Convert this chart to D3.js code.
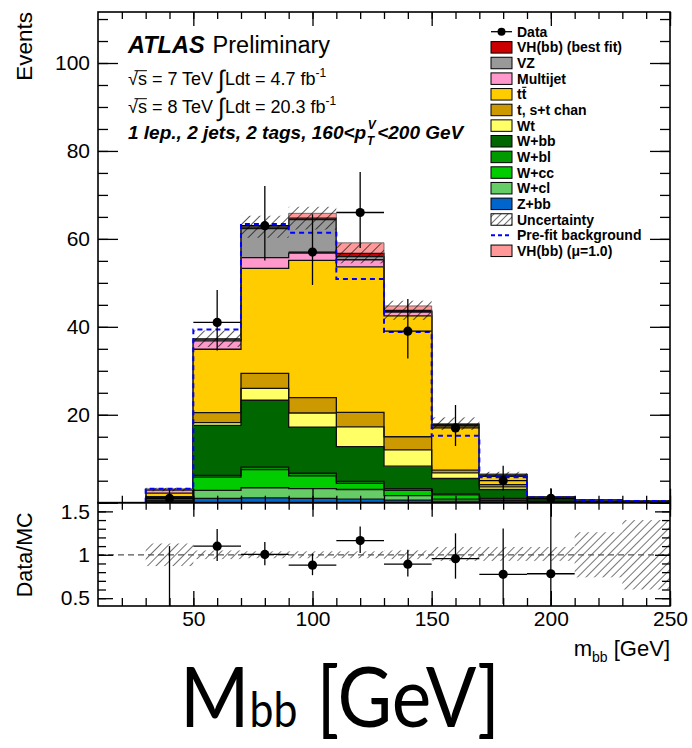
<!DOCTYPE html>
<html>
<head>
<meta charset="utf-8">
<script src="https://cdn.jsdelivr.net/npm/d3@7/dist/d3.min.js"></script>
<style>
html,body{margin:0;padding:0;background:#fff;}
svg{display:block;}
</style>
</head>
<body>
<svg id="chart" width="692" height="748"></svg>
<script>
// m_bb histogram binning (GeV)
const binEdges   = [30, 50, 70, 90, 110, 130, 150, 170, 190, 210, 230, 250];
const binCenters = [40, 60, 80, 100, 120, 140, 160, 180, 200, 220, 240];

// post-fit yields per bin, listed from the bottom of the stack upwards
const zbb      = [0.05, 1.0, 1.1, 1.0, 0.8, 0.6, 0.35, 0.2, 0.05, 0.03, 0.02];
const wcl      = [0.15, 1.8, 2.3, 2.2, 2.2, 1.0, 0.45, 0.3, 0.1, 0.05, 0.03];
const wcc      = [0.2, 3.0, 4.1, 2.9, 1.4, 1.2, 1.0, 0.4, 0.15, 0.05, 0.04];
const wbl      = [0.05, 0.4, 0.6, 0.6, 0.45, 0.4, 0.2, 0.1, 0.05, 0.02, 0.02];
const wbb      = [0.75, 11.4, 15.2, 10.5, 7.9, 5.1, 3.5, 2.0, 0.5, 0.25, 0.2];
const wt       = [0.1, 0.6, 2.7, 3.2, 4.5, 3.7, 1.3, 0.6, 0.1, 0.05, 0.03];
const stop     = [0.1, 2.3, 3.4, 3.5, 3.3, 3.0, 0.6, 0.5, 0.1, 0.02, 0.02];
const ttbar    = [0.8, 14.4, 23.9, 31.2, 33.1, 27.5, 10.0, 1.9, 0.2, 0.13, 0.08];
const multijet = [0.7, 1.9, 2.45, 1.66, 1.6, 0.85, 0.2, 0.3, 0.03, 0, 0];
const vz       = [0.1, 0.4, 6.6, 7.6, 0.7, 0.15, 0.05, 0.05, 0, 0, 0];
const vhFit    = [0, 0.1, 0.4, 0.35, 0.75, 0.25, 0.15, 0.1, 0, 0, 0];
// VH(bb) at mu = 1, shown above the post-fit stack
const vhMu1    = [0, 0, 0, 1.1, 2.4, 1.0, 0.2, 0.05, 0, 0, 0];

// pre-fit total background
const preFit   = [3.2, 39.4, 63.4, 61.4, 50.9, 38.8, 15.2, 5.8, 1.2, 0.6, 0.4];

// relative background uncertainty (up / down)
const uncUp    = [0.13, 0.05, 0.04, 0.04, 0.04, 0.05, 0.09, 0.09, 0.09, 0.26, 0.40];
const uncDown  = [0.13, 0.05, 0.04, 0.04, 0.04, 0.05, 0.07, 0.07, 0.07, 0.26, 0.40];

// observed data with Poisson error bars
const dataCounts  = [1, 41, 63, 57, 66, 39, 17, 5, 1, 0, 0];
const dataErrUp   = [2.3, 7.4, 9.0, 8.6, 9.2, 7.3, 5.2, 3.4, 2.3, 0, 0];
const dataErrDown = [0.83, 6.4, 7.9, 7.5, 8.1, 6.2, 4.1, 2.2, 0.83, 0, 0];

// axis ticks
const mainYMajor  = [0, 20, 40, 60, 80, 100];
const mainYMinor  = [0, 5, 10, 15, 20, 25, 30, 35, 40, 45, 50, 55, 60, 65, 70, 75, 80, 85, 90, 95, 100, 105, 110];
const xMajor      = [50, 100, 150, 200, 250];
const xMinor      = [20, 30, 40, 50, 60, 70, 80, 90, 100, 110, 120, 130, 140, 150, 160, 170, 180, 190, 200, 210, 220, 230, 240, 250];
const ratioMajor  = [0.5, 1, 1.5];
const ratioMinor  = [0.5, 0.6, 0.7, 0.8, 0.9, 1.0, 1.1, 1.2, 1.3, 1.4, 1.5, 1.6];

const FONT = "'Liberation Sans', Arial, Helvetica, sans-serif";

const layers = [
  {key: "zbb",      label: "Z+bb",              values: zbb,      color: "#0066cc"},
  {key: "wcl",      label: "W+cl",              values: wcl,      color: "#66cc66"},
  {key: "wcc",      label: "W+cc",              values: wcc,      color: "#00cc00"},
  {key: "wbl",      label: "W+bl",              values: wbl,      color: "#009900"},
  {key: "wbb",      label: "W+bb",              values: wbb,      color: "#006600"},
  {key: "wt",       label: "Wt",                values: wt,       color: "#ffff66"},
  {key: "stop",     label: "t, s+t chan",       values: stop,     color: "#cc9900"},
  {key: "ttbar",    label: "tt",                values: ttbar,    color: "#ffcc00"},
  {key: "multijet", label: "Multijet",          values: multijet, color: "#ff99cc"},
  {key: "vz",       label: "VZ",                values: vz,       color: "#999999"},
  {key: "vhFit",    label: "VH(bb) (best fit)", values: vhFit,    color: "#cc0000"},
  {key: "vhMu1",    label: "VH(bb) (\u03bc=1.0)", values: vhMu1,  color: "#ff9999"}
];

const svg = d3.select("#chart");
const L = 98, R = 670, T = 12, MB = 502.7, RB = 606;

const x  = d3.scaleLinear().domain([10, 250]).range([L, R]);
const y  = d3.scaleLinear().domain([0, 111.6]).range([MB, T]);
const yr = d3.scaleLinear().domain([0.41, 1.6]).range([RB, MB]);

const defs = svg.append("defs");
defs.append("clipPath").attr("id", "clipMain")
  .append("rect").attr("x", L).attr("y", T).attr("width", R - L).attr("height", MB - T);
defs.append("clipPath").attr("id", "clipRatio")
  .append("rect").attr("x", L).attr("y", MB).attr("width", R - L).attr("height", RB - MB);

function hatch(id, size, color, width) {
  const p = defs.append("pattern").attr("id", id)
    .attr("patternUnits", "userSpaceOnUse")
    .attr("width", size).attr("height", size)
    .attr("patternTransform", "rotate(45)");
  p.append("line").attr("x1", 0).attr("y1", 0).attr("x2", 0).attr("y2", size)
    .attr("stroke", color).attr("stroke-width", width);
}
hatch("hatchMain", 7, "#000", 1.3);
hatch("hatchRatio", 6, "#000", 1.1);
hatch("hatchLegend", 5, "#000", 1.1);

// ---------- stacked histogram ----------
const table = binCenters.map((c, i) => {
  const row = {bin: i};
  layers.forEach(l => row[l.key] = l.values[i]);
  return row;
});
const stacked = d3.stack().keys(layers.map(l => l.key))(table);

const gMain = svg.append("g").attr("clip-path", "url(#clipMain)");

function bandPoints(series) {
  const pts = [];
  series.forEach((d, i) => {
    pts.push({x: binEdges[i], y0: d[0], y1: d[1]});
    pts.push({x: binEdges[i + 1], y0: d[0], y1: d[1]});
  });
  return pts;
}
function stepPoints(vals) {
  const pts = [{x: binEdges[0], v: 0}];
  vals.forEach((v, i) => {
    pts.push({x: binEdges[i], v});
    pts.push({x: binEdges[i + 1], v});
  });
  pts.push({x: binEdges[binEdges.length - 1], v: 0});
  return pts;
}

const area = d3.area().x(d => x(d.x)).y0(d => y(d.y0)).y1(d => y(d.y1));
const step = d3.line().x(d => x(d.x)).y(d => y(d.v));

stacked.forEach((s, k) => {
  gMain.append("path").attr("d", area(bandPoints(s)))
    .attr("fill", layers[k].color).attr("stroke", "none");
});
stacked.forEach((s, k) => {
  if (layers[k].key === "vhMu1") return;
  gMain.append("path").attr("d", step(stepPoints(s.map(d => d[1]))))
    .attr("fill", "none").attr("stroke", "#111").attr("stroke-width", 1.3);
});
// top of the signal at mu = 1
const muTop = stacked[stacked.length - 1];
gMain.append("path").attr("d", step(stepPoints(muTop.map(d => d[1]))))
  .attr("fill", "none").attr("stroke", "#555").attr("stroke-width", 0.8);

// total post-fit MC (without the mu = 1 signal)
const mcTotal = binCenters.map((c, i) => stacked[stacked.length - 2][i][1]);

// uncertainty band
binCenters.forEach((c, i) => {
  const lo = mcTotal[i] * (1 - uncDown[i]), hi = mcTotal[i] * (1 + uncUp[i]);
  gMain.append("rect")
    .attr("x", x(binEdges[i])).attr("width", x(binEdges[i + 1]) - x(binEdges[i]))
    .attr("y", y(hi)).attr("height", y(lo) - y(hi))
    .attr("fill", "url(#hatchMain)");
});

// pre-fit background
gMain.append("path").attr("d", step(stepPoints(preFit)))
  .attr("fill", "none").attr("stroke", "#0000ff").attr("stroke-width", 2)
  .attr("stroke-dasharray", "5,4");

// data points
function drawData(g, yScale, vals, up, down, r) {
  binCenters.forEach((c, i) => {
    if (dataCounts[i] <= 0) return;
    const v = vals[i];
    g.append("line").attr("x1", x(c)).attr("x2", x(c))
      .attr("y1", yScale(v + up[i])).attr("y2", yScale(v - down[i]))
      .attr("stroke", "#000").attr("stroke-width", 1.3);
    g.append("line").attr("x1", x(binEdges[i])).attr("x2", x(binEdges[i + 1]))
      .attr("y1", yScale(v)).attr("y2", yScale(v))
      .attr("stroke", "#000").attr("stroke-width", 1.3);
    g.append("circle").attr("cx", x(c)).attr("cy", yScale(v)).attr("r", r).attr("fill", "#000");
  });
}
drawData(gMain, y, dataCounts, dataErrUp, dataErrDown, 4.6);

// ---------- ratio panel ----------
const gRatio = svg.append("g").attr("clip-path", "url(#clipRatio)");
binCenters.forEach((c, i) => {
  gRatio.append("rect")
    .attr("x", x(binEdges[i])).attr("width", x(binEdges[i + 1]) - x(binEdges[i]))
    .attr("y", yr(1 + uncUp[i])).attr("height", yr(1 - uncDown[i]) - yr(1 + uncUp[i]))
    .attr("fill", "url(#hatchRatio)");
});
gRatio.append("line").attr("x1", L).attr("x2", R).attr("y1", yr(1)).attr("y2", yr(1))
  .attr("stroke", "#555").attr("stroke-width", 1.2).attr("stroke-dasharray", "6,4");

const ratio     = dataCounts.map((d, i) => d / mcTotal[i]);
const ratioUp   = dataErrUp.map((e, i) => e / mcTotal[i]);
const ratioDown = dataErrDown.map((e, i) => e / mcTotal[i]);
drawData(gRatio, yr, ratio, ratioUp, ratioDown, 4.6);

// ---------- frames and axes ----------
function styleAxis(g, showLabels) {
  g.select(".domain").remove();
  g.selectAll(".tick line").attr("stroke", "#000").attr("stroke-width", 1.3);
  if (showLabels) {
    g.selectAll("text").attr("font-family", FONT).attr("font-size", 21).attr("fill", "#000");
  } else {
    g.selectAll("text").remove();
  }
}
function axis(gen, tx, ty, vals, size, labels, fmt, pad) {
  const a = gen.tickValues(vals).tickSize(size).tickSizeOuter(0);
  if (fmt) a.tickFormat(fmt);
  if (pad !== undefined) a.tickPadding(pad);
  const g = svg.append("g").attr("transform", `translate(${tx},${ty})`).call(a);
  styleAxis(g, labels);
  return g;
}

// main panel
axis(d3.axisLeft(y), L, 0, mainYMinor, -10, false);
axis(d3.axisLeft(y), L, 0, mainYMajor, -20, true, d => d === 0 ? "" : d, 8);
axis(d3.axisRight(y), R, 0, mainYMinor, -10, false);
axis(d3.axisRight(y), R, 0, mainYMajor, -20, false);
axis(d3.axisTop(x), 0, T, xMinor, -7, false);
axis(d3.axisTop(x), 0, T, xMajor, -14, false);
axis(d3.axisBottom(x), 0, MB, xMinor, -7, false);
axis(d3.axisBottom(x), 0, MB, xMajor, -14, false);

// ratio panel
axis(d3.axisLeft(yr), L, 0, ratioMinor, -8, false);
axis(d3.axisLeft(yr), L, 0, ratioMajor, -15, true, d => d, 8);
axis(d3.axisRight(yr), R, 0, ratioMinor, -8, false);
axis(d3.axisRight(yr), R, 0, ratioMajor, -15, false);
axis(d3.axisTop(x), 0, MB, xMinor, -7, false);
axis(d3.axisTop(x), 0, MB, xMajor, -14, false);
axis(d3.axisBottom(x), 0, RB, xMinor, -8, false);
axis(d3.axisBottom(x), 0, RB, xMajor, -15, true, d => d, 5);

svg.append("rect").attr("x", L).attr("y", T).attr("width", R - L).attr("height", MB - T)
  .attr("fill", "none").attr("stroke", "#000").attr("stroke-width", 1.6);
svg.append("rect").attr("x", L).attr("y", MB).attr("width", R - L).attr("height", RB - MB)
  .attr("fill", "none").attr("stroke", "#000").attr("stroke-width", 1.6);

// axis titles
svg.append("text").attr("transform", "translate(32,12) rotate(-90)")
  .attr("text-anchor", "end").attr("font-family", FONT).attr("font-size", 22.5).text("Events");
svg.append("text").attr("transform", `translate(32,${yr(1)}) rotate(-90)`)
  .attr("text-anchor", "middle").attr("font-family", FONT).attr("font-size", 21.5).text("Data/MC");

const xt = svg.append("text").attr("x", R).attr("y", 656).attr("text-anchor", "end")
  .attr("font-family", FONT).attr("font-size", 22);
xt.append("tspan").text("m");
xt.append("tspan").attr("font-size", 14).attr("dy", 6).text("bb");
xt.append("tspan").attr("dy", -6).text(" [GeV]");

// ---------- labels in the plot ----------
const t1 = svg.append("text").attr("x", 128).attr("y", 53).attr("font-family", FONT).attr("font-size", 23.5);
t1.append("tspan").attr("font-weight", "bold").attr("font-style", "italic").text("ATLAS");
t1.append("tspan").attr("dx", 8).text("Preliminary");

function lumiLine(yb, energy, lumi) {
  const t = svg.append("text").attr("x", 128).attr("y", yb).attr("font-family", FONT).attr("font-size", 18);
  t.append("tspan").text(`\u221as = ${energy} TeV `);
  t.append("tspan").attr("font-size", 25).attr("dy", 3).text("\u222b");
  t.append("tspan").attr("dy", -3).text(`Ldt = ${lumi} fb`);
  t.append("tspan").attr("font-size", 12).attr("dy", -8).text("-1");
  // bar of the square root over "s"
  const node = t.node();
  const s1 = node.getEndPositionOfChar(1).x;
  const r0 = node.getStartPositionOfChar(0).x;
  svg.append("line").attr("x1", r0 + 6.5).attr("x2", s1).attr("y1", yb - 14.3).attr("y2", yb - 14.3)
    .attr("stroke", "#000").attr("stroke-width", 1);
}
lumiLine(85, 7, "4.7");
lumiLine(113, 8, "20.3");

const regionX = 128, regionY = 139, RS = 19;
const reg = svg.append("text").attr("x", regionX).attr("y", regionY).attr("font-family", FONT)
  .attr("font-size", RS).attr("font-weight", "bold").attr("font-style", "italic")
  .text("1 lep., 2 jets, 2 tags, 160<p");
const regW = reg.node().getComputedTextLength();
svg.append("text").attr("x", regionX + regW + 1.5).attr("y", regionY - 10).attr("font-family", FONT)
  .attr("font-size", 12).attr("font-weight", "bold").attr("font-style", "italic").text("V");
svg.append("text").attr("x", regionX + regW + 0.5).attr("y", regionY + 6).attr("font-family", FONT)
  .attr("font-size", 12).attr("font-weight", "bold").attr("font-style", "italic").text("T");
svg.append("text").attr("x", regionX + regW + 11).attr("y", regionY).attr("font-family", FONT)
  .attr("font-size", RS).attr("font-weight", "bold").attr("font-style", "italic").text("<200 GeV");

// ---------- legend ----------
const legendEntries = [
  {label: "Data", type: "data"},
  {label: "VH(bb) (best fit)", type: "box", color: "#cc0000"},
  {label: "VZ", type: "box", color: "#999999"},
  {label: "Multijet", type: "box", color: "#ff99cc"},
  {label: "tt", type: "box", color: "#ffcc00", bar: true},
  {label: "t, s+t chan", type: "box", color: "#cc9900"},
  {label: "Wt", type: "box", color: "#ffff66"},
  {label: "W+bb", type: "box", color: "#006600"},
  {label: "W+bl", type: "box", color: "#009900"},
  {label: "W+cc", type: "box", color: "#00cc00"},
  {label: "W+cl", type: "box", color: "#66cc66"},
  {label: "Z+bb", type: "box", color: "#0066cc"},
  {label: "Uncertainty", type: "box", color: "url(#hatchLegend)"},
  {label: "Pre-fit background", type: "dash"},
  {label: "VH(bb) (\u03bc=1.0)", type: "box", color: "#ff9999"}
];
const lx = 491, lw = 21, lh = 11.5, ltx = 517, ly0 = 31.7, ldy = 15.65;
legendEntries.forEach((e, i) => {
  const cy = ly0 + i * ldy;
  if (e.type === "box") {
    svg.append("rect").attr("x", lx).attr("y", cy - lh / 2).attr("width", lw).attr("height", lh)
      .attr("fill", e.color).attr("stroke", "#000").attr("stroke-width", 1);
  } else if (e.type === "data") {
    svg.append("line").attr("x1", lx).attr("x2", lx + lw).attr("y1", cy).attr("y2", cy)
      .attr("stroke", "#000").attr("stroke-width", 1.3);
    svg.append("circle").attr("cx", lx + lw / 2).attr("cy", cy).attr("r", 4).attr("fill", "#000");
  } else if (e.type === "dash") {
    svg.append("line").attr("x1", lx).attr("x2", lx + lw).attr("y1", cy).attr("y2", cy)
      .attr("stroke", "#0000ff").attr("stroke-width", 2).attr("stroke-dasharray", "4,3");
  }
  const t = svg.append("text").attr("x", ltx).attr("y", cy + 5).attr("font-family", FONT)
    .attr("font-size", 14).attr("font-weight", "bold").text(e.label);
  if (e.bar) {
    const w = t.node().getComputedTextLength();
    svg.append("line").attr("x1", ltx + w / 2 + 0.5).attr("x2", ltx + w).attr("y1", cy - 7).attr("y2", cy - 7)
      .attr("stroke", "#000").attr("stroke-width", 1.1);
  }
});

// ---------- caption ----------
const capX = 180, capWidth = 320;
const cap = svg.append("text").attr("x", capX).attr("y", 727)
  .attr("font-family", "Lato, 'Open Sans', sans-serif").attr("font-size", 84).attr("fill", "#000");
cap.append("tspan").text("M");
cap.append("tspan").attr("font-size", 48).text("bb");
cap.append("tspan").text(" [GeV]");
const capScale = capWidth / cap.node().getBBox().width;
cap.attr("transform", `translate(${capX},0) scale(${capScale},1) translate(${-capX},0)`);
</script>
</body>
</html>
